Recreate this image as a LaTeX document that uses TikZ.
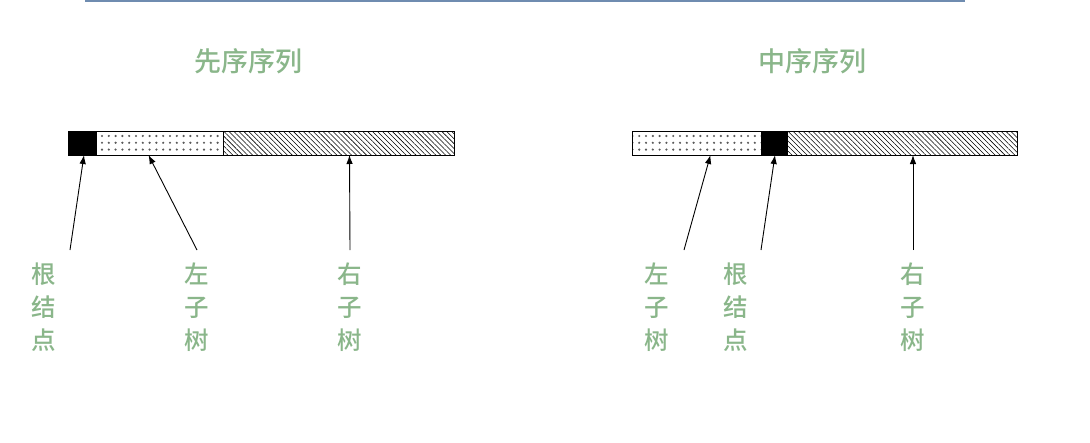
\documentclass[tikz,border=0pt]{standalone}
\usepackage{fontspec}
\setmainfont{Noto Sans CJK SC}[BoldFont={Noto Sans CJK SC Medium}]
\usepackage{xcolor}
\usetikzlibrary{arrows.meta,positioning,patterns.meta}
\definecolor{labelGreen}{HTML}{8AB68A}
\definecolor{ruleBlue}{HTML}{6F8CB0}

\begin{document}
\begin{tikzpicture}[
    x=1pt,y=-1pt,
    node distance=0pt,
    seg/.style={draw,line width=0.9pt,minimum height=24pt,inner sep=0pt,outer sep=0pt},
    rootseg/.style={seg,fill=black},
    leftseg/.style={seg,pattern={Dots[distance=6.8pt,radius=1.2pt]},pattern color=black!65},
    rightseg/.style={seg,pattern={Lines[angle=-45,distance=3.5pt,line width=0.55pt]}},
    title/.style={font=\fontsize{27}{30}\bfseries,text=labelGreen},
    lbl/.style={font=\fontsize{24.5}{33}\bfseries,text=labelGreen,align=center,inner sep=0pt,anchor=north},
    arrow/.style={-{Latex[length=9pt,width=6.5pt]},line width=0.9pt}
  ]
    \useasboundingbox (0,0) rectangle (1090,442);
    \draw[ruleBlue,line width=1.5pt] (85,1) -- (965,1);
    % preorder
    \node[title] (preTitle) at (248,61) {先序序列};
    \node[rootseg,minimum width=28pt,anchor=west] (preRoot) at (68,143) {};
    \node[leftseg,minimum width=127pt,right=of preRoot] (preLeft) {};
    \node[rightseg,minimum width=231pt,right=of preLeft] (preRight) {};
    \node[lbl] (preRootLbl) at (44,263) {根\\结\\点};
    \node[lbl] (preLeftLbl) at (197,263) {左\\子\\树};
    \node[lbl] (preRightLbl) at (350,263) {右\\子\\树};
    \draw[arrow] ([xshift=26pt,yshift=13pt]preRootLbl.north) -- ([xshift=2pt]preRoot.south);
    \draw[arrow] ([yshift=13pt]preLeftLbl.north) -- ([xshift=-11pt]preLeft.south);
    \draw[arrow] ([yshift=13pt]preRightLbl.north) -- ([xshift=11pt]preRight.south);
    % inorder
    \node[title] (inTitle) at (812,61) {中序序列};
    \node[leftseg,minimum width=129pt,anchor=west] (inLeft) at (632,143) {};
    \node[rootseg,minimum width=26pt,right=of inLeft] (inRoot) {};
    \node[rightseg,minimum width=230pt,right=of inRoot] (inRight) {};
    \node[lbl] (inLeftLbl) at (657,263) {左\\子\\树};
    \node[lbl] (inRootLbl) at (736,263) {根\\结\\点};
    \node[lbl] (inRightLbl) at (913,263) {右\\子\\树};
    \draw[arrow] ([xshift=27pt,yshift=13pt]inLeftLbl.north) -- ([xshift=14pt]inLeft.south);
    \draw[arrow] ([xshift=25pt,yshift=13pt]inRootLbl.north) -- ([xshift=1pt]inRoot.south);
    \draw[arrow] ([yshift=13pt]inRightLbl.north) -- ([xshift=11pt]inRight.south);
\end{tikzpicture}
\end{document}
